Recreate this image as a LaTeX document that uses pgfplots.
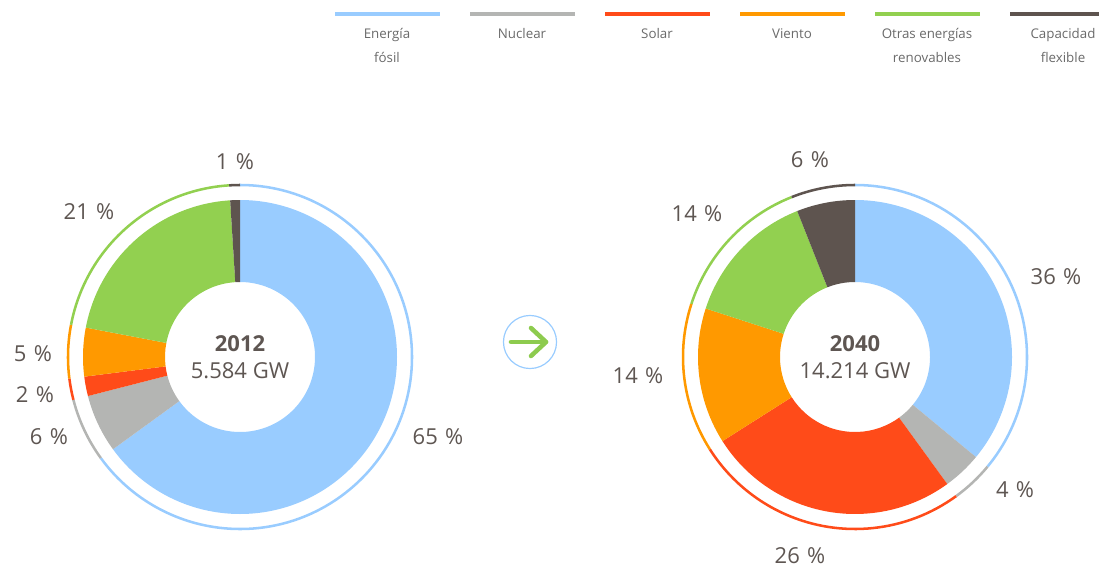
\documentclass[border=0pt]{standalone}
\usepackage{pgfplots}
\pgfplotsset{compat=1.18}
\usepackage{fontspec}
\setmainfont{Open Sans}
\definecolor{fossil}{HTML}{99CCFF}
\definecolor{nuclear}{HTML}{B4B5B3}
\definecolor{solar}{HTML}{FF4B19}
\definecolor{wind}{HTML}{FF9900}
\definecolor{other}{HTML}{92D050}
\definecolor{flex}{HTML}{5E544F}
\definecolor{txt}{HTML}{5E5652}
\definecolor{legtxt}{HTML}{6A6A6A}
\definecolor{arrowg}{HTML}{8DCB4E}

\newcommand\startdonut{\gdef\curang{90}}
% #1 cx, #2 cy, #3 percent, #4 colour
\newcommand\seg[4]{%
 \pgfmathsetmacro\aA{\curang}%
 \pgfmathsetmacro\aB{\curang-3.6*#3}%
 \pgfmathsetmacro\oxA{#1+157*cos(\aA)}\pgfmathsetmacro\oyA{#2-157*sin(\aA)}%
 \pgfmathsetmacro\ixB{#1+75*cos(\aB)}\pgfmathsetmacro\iyB{#2-75*sin(\aB)}%
 \pgfmathsetmacro\rxA{#1+172*cos(\aA)}\pgfmathsetmacro\ryA{#2-172*sin(\aA)}%
 \edef\tmp{\noexpand\fill[#4] (axis cs:\oxA,\oyA) arc[start angle=\aA,end angle=\aB,radius=117.75pt] -- (axis cs:\ixB,\iyB) arc[start angle=\aB,end angle=\aA,radius=56.25pt] -- cycle;
 \noexpand\draw[#4,line width=1.9pt] (axis cs:\rxA,\ryA) arc[start angle=\aA,end angle=\aB,radius=129pt];}%
 \tmp
 \xdef\curang{\aB}}

\begin{document}
\begin{tikzpicture}
\begin{axis}[name=ax, scale only axis, width=824.25pt, height=425.25pt,
  xmin=0, xmax=1099, ymin=0, ymax=567, y dir=reverse, hide axis, clip=false]
% legend
\draw[fossil, line width=2.3pt] (axis cs:335,14) -- (axis cs:440,14);
\draw[nuclear, line width=2.3pt] (axis cs:470,14) -- (axis cs:575,14);
\draw[solar, line width=2.3pt] (axis cs:605,14) -- (axis cs:710,14);
\draw[wind, line width=2.3pt] (axis cs:740,14) -- (axis cs:845,14);
\draw[other, line width=2.3pt] (axis cs:875,14) -- (axis cs:980,14);
\draw[flex, line width=2.3pt] (axis cs:1010,14) -- (axis cs:1099,14);
\tikzset{leg/.style={align=center, font=\fontsize{10}{18}\selectfont, text=legtxt, anchor=north, inner sep=0pt}}
\node[leg] at (axis cs:387,28) {Energía\\fósil};
\node[leg] at (axis cs:522,28) {Nuclear};
\node[leg] at (axis cs:657,28) {Solar};
\node[leg] at (axis cs:792,28) {Viento};
\node[leg] at (axis cs:927,28) {Otras energías\\renovables};
\node[leg] at (axis cs:1063,28) {Capacidad\\flexible};
% donut 2012
\startdonut
\seg{240}{357}{65}{fossil}
\seg{240}{357}{6}{nuclear}
\seg{240}{357}{2}{solar}
\seg{240}{357}{5}{wind}
\seg{240}{357}{21}{other}
\seg{240}{357}{1}{flex}
% donut 2040
\startdonut
\seg{855}{357}{36}{fossil}
\seg{855}{357}{4}{nuclear}
\seg{855}{357}{26}{solar}
\seg{855}{357}{14}{wind}
\seg{855}{357}{14}{other}
\seg{855}{357}{6}{flex}
% labels
\tikzset{pct/.style={font=\fontsize{16.5}{18}\selectfont, text=txt, inner sep=0pt}}
\node[pct] at (axis cs:438,437) {65\,\,\%};
\node[pct] at (axis cs:49,437) {6\,\,\%};
\node[pct] at (axis cs:35,395) {2\,\,\%};
\node[pct] at (axis cs:33,354) {5\,\,\%};
\node[pct] at (axis cs:89,212) {21\,\,\%};
\node[pct] at (axis cs:235,162) {1\,\,\%};
\node[pct] at (axis cs:1056,277) {36\,\,\%};
\node[pct] at (axis cs:1015,490) {4\,\,\%};
\node[pct] at (axis cs:800,556) {26\,\,\%};
\node[pct] at (axis cs:638,376) {14\,\,\%};
\node[pct] at (axis cs:697,214) {14\,\,\%};
\node[pct] at (axis cs:810,160) {6\,\,\%};
% centres
\tikzset{ctr/.style={font=\fontsize{16.5}{18}\selectfont, text=txt, inner sep=0pt}}
\node[ctr, font=\fontsize{16.5}{18}\selectfont\bfseries] at (axis cs:240,344) {2012};
\node[ctr] at (axis cs:240,371) {5.584 GW};
\node[ctr, font=\fontsize{16.5}{18}\selectfont\bfseries] at (axis cs:855,344) {2040};
\node[ctr] at (axis cs:855,371) {14.214 GW};
% arrow
\draw[fossil, line width=0.9pt] (axis cs:530,342) circle[radius=19.9pt];
\draw[arrowg, line width=3.4pt, line cap=round, line join=round] (axis cs:511,342) -- (axis cs:546,342);
\draw[arrowg, line width=3.4pt, line cap=round, line join=round] (axis cs:531,328) -- (axis cs:546,342) -- (axis cs:531,356);
\end{axis}
\pgfresetboundingbox
\path[use as bounding box] (ax.south west) rectangle (ax.north east);
\end{tikzpicture}
\end{document}
